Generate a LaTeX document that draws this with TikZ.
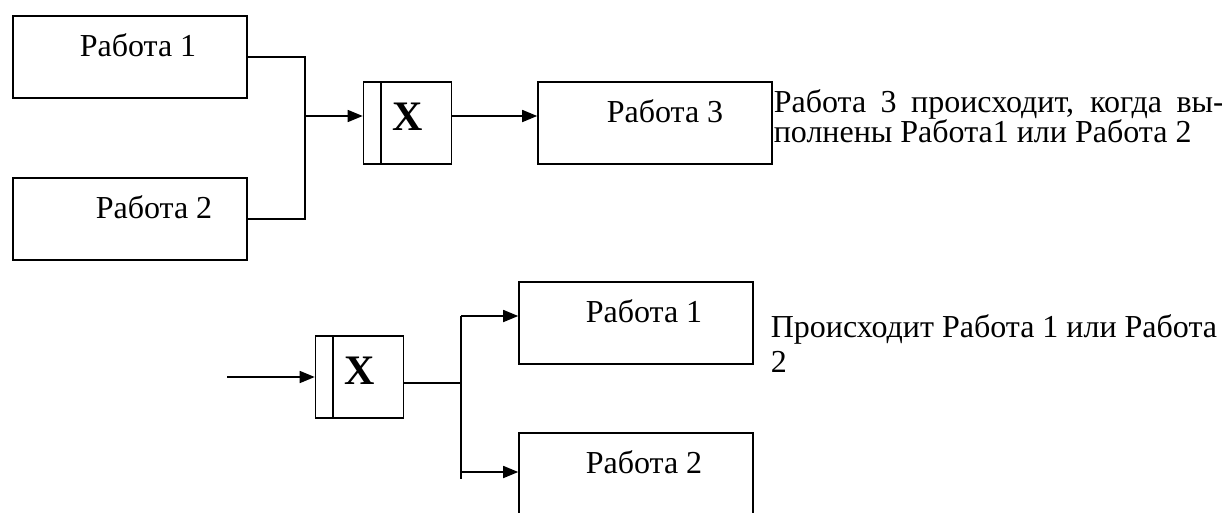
\documentclass[tikz,border=0pt]{standalone}
\usepackage{fontspec}
\setmainfont{Liberation Serif}
\usetikzlibrary{arrows.meta}

\begin{document}
\begin{tikzpicture}[
        x=1pt, y=-1pt,
        line width=1.6pt,
        job/.style={draw, rectangle, minimum width=234pt, minimum height=82pt, inner sep=0pt,
            font=\fontsize{32}{36}\selectfont, text height=21pt, text depth=23pt},
        gate/.style={draw, rectangle, minimum width=88pt, minimum height=82pt, inner sep=0pt,
            font=\fontsize{42}{46}\selectfont\bfseries, text height=28pt, text depth=13pt},
        arr/.style={-{Triangle[length=15pt, width=12pt]}}
        ]
    % Define styles
    \tikzstyle{note} = [anchor=base west, inner sep=0pt]

    \useasboundingbox (0,0) rectangle (1222,512);

    % Define job nodes (first scheme)
    \node[job] (W1) at (130,57) {\hspace*{16pt}Работа 1};
    \node[job] (W2) at (130,219) {\hspace*{48pt}Работа 2};
    \node[job] (W3) at (655,123) {\hspace*{20pt}Работа 3};

    % Define XOR node (first scheme)
    \node[gate] (g1) at (407.5,123) {X};
    \draw ([xshift=18pt]g1.north west) -- ([xshift=18pt]g1.south west);

    % Draw edges from jobs to XOR and on to job 3
    \coordinate (j1) at (305,116);
    \draw (W1.east) -| (j1) |- (W2.east);
    \draw[arr] (j1) -- (g1.west |- j1);
    \draw[arr] (g1.east |- j1) -- (W3.west |- j1);

    % Define job nodes (second scheme)
    \node[job] (V1) at (636,323) {\hspace*{16pt}Работа 1};
    \node[job] (V2) at (636,474) {\hspace*{16pt}Работа 2};

    % Define XOR node (second scheme)
    \node[gate] (g2) at (359.5,377) {X};
    \draw ([xshift=18pt]g2.north west) -- ([xshift=18pt]g2.south west);

    % Draw edges from XOR to jobs
    \coordinate (in) at (227,377);
    \coordinate (j2) at (461,383);
    \coordinate (b1) at (461,316);
    \coordinate (b2) at (461,472);
    \draw[arr] (in) -- (g2.west);
    \draw (g2.east |- j2) -- (j2);
    \draw (b1) -- (b2) -- ++(0,7);
    \draw[arr] (b1) -- (V1.west |- b1);
    \draw[arr] (b2) -- (V2.west |- b2);

    % Define notes
    \node[note, text width=450pt, align=justify, font=\fontsize{32}{28}\selectfont] (n1) at (773,112)
        {Работа 3 происходит, когда вы-\linebreak полнены Работа1 или Работа 2};
    \node[note, align=left, font=\fontsize{32}{35}\selectfont] (n2) at (770,372)
        {Происходит Работа 1 или Работа\\2};

\end{tikzpicture}
\end{document}
